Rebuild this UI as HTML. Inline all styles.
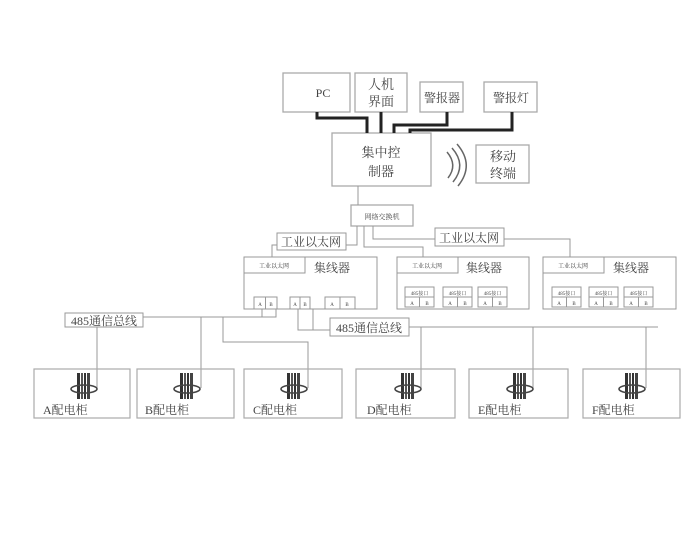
<!DOCTYPE html>
<html><head><meta charset="utf-8"><style>
html,body{margin:0;padding:0;background:#fff;}
svg{display:block;}
text{font-family:"Liberation Serif","Noto Serif CJK SC","Noto Sans CJK SC",serif;fill:#444;}
</style></head><body>
<svg width="699" height="548" viewBox="0 0 699 548" xmlns="http://www.w3.org/2000/svg">
<defs>
<g id="bus">
  <rect x="-7" y="0" width="3" height="26" fill="#333"/>
  <rect x="-3" y="0" width="2" height="26" fill="#555"/>
  <rect x="0" y="0" width="2" height="26" fill="#333"/>
  <rect x="3" y="0" width="3" height="26" fill="#444"/>
  <ellipse cx="0" cy="16" rx="13" ry="4" fill="none" stroke="#444" stroke-width="1.6"/>
</g>
<g id="mod">
  <rect x="0" y="0" width="29" height="20" fill="#fff" stroke="#999"/>
  <line x1="0" y1="10" x2="29" y2="10" stroke="#999"/>
  <line x1="14.5" y1="10" x2="14.5" y2="20" stroke="#999"/>
  <text x="14.5" y="8" font-size="5" text-anchor="middle">485接口</text>
  <text x="7" y="18" font-size="5" text-anchor="middle">A</text>
  <text x="22" y="18" font-size="5" text-anchor="middle">B</text>
</g>
</defs>
<g fill="none" stroke="#aaa" stroke-width="1.3">
  <rect x="283" y="73" width="67" height="39"/>
  <rect x="355" y="73" width="52" height="39"/>
  <rect x="420" y="82" width="43" height="30"/>
  <rect x="484" y="82" width="53" height="30"/>
  <rect x="332" y="133" width="99" height="53"/>
  <rect x="476" y="145" width="53" height="38"/>
  <rect x="351" y="205" width="62" height="21"/>
</g>
<g fill="none" stroke="#222" stroke-width="3">
  <polyline points="317,112 317,118 367,118 367,133"/>
  <polyline points="381,112 381,133"/>
  <polyline points="447,112 447,125 394,125 394,133"/>
  <polyline points="512,112 512,130 410,130 410,133"/>
</g>
<g fill="none" stroke="#666" stroke-width="1.5">
  <path d="M447,152 Q458,165 448,178"/>
  <path d="M452,148 Q467,165 453,182"/>
  <path d="M457,144 Q475,165 458,186"/>
</g>
<text x="323" y="97" font-size="12" text-anchor="middle">PC</text>
<text x="381" y="89" font-size="13" text-anchor="middle">人机</text>
<text x="381" y="106" font-size="13" text-anchor="middle">界面</text>
<text x="442" y="102" font-size="12" text-anchor="middle">警报器</text>
<text x="511" y="102" font-size="12" text-anchor="middle">警报灯</text>
<text x="381" y="157" font-size="13" text-anchor="middle">集中控</text>
<text x="381" y="176" font-size="13" text-anchor="middle">制器</text>
<text x="503" y="161" font-size="13" text-anchor="middle">移动</text>
<text x="503" y="178" font-size="13" text-anchor="middle">终端</text>
<text x="382" y="219" font-size="7" text-anchor="middle">网络交换机</text>
<g fill="none" stroke="#999" stroke-width="1">
  <line x1="358" y1="186" x2="358" y2="205"/>
  <polyline points="357,226 357,245 272,245 272,257"/>
  <polyline points="364,226 364,247 423,247 423,257"/>
  <polyline points="373,226 373,239 570,239 570,257"/>
</g>
<g fill="#fff" stroke="#999" stroke-width="1">
  <rect x="277" y="233" width="69" height="17"/>
  <rect x="435" y="228" width="69" height="18"/>
</g>
<text x="311" y="246" font-size="12" text-anchor="middle">工业以太网</text>
<text x="469" y="242" font-size="12" text-anchor="middle">工业以太网</text>
<!-- hubs -->
<g fill="none" stroke="#999" stroke-width="1">
  <rect x="244" y="257" width="133" height="52"/>
  <rect x="244" y="257" width="61" height="16"/>
  <rect x="397" y="257" width="132" height="52"/>
  <rect x="397" y="257" width="61" height="16"/>
  <rect x="543" y="257" width="133" height="52"/>
  <rect x="543" y="257" width="61" height="16"/>
  <rect x="254" y="297" width="23" height="12"/><line x1="265.5" y1="297" x2="265.5" y2="309"/>
  <rect x="290" y="297" width="20" height="12"/><line x1="300" y1="297" x2="300" y2="309"/>
  <rect x="325" y="297" width="30" height="12"/><line x1="340" y1="297" x2="340" y2="309"/>
</g>
<g font-size="5" text-anchor="middle">
<text x="260" y="306">A</text><text x="271" y="306">B</text>
<text x="295" y="306">A</text><text x="305" y="306">B</text>
<text x="332" y="306">A</text><text x="347" y="306">B</text>
<text x="274" y="268" font-size="6">工业以太网</text>
<text x="427" y="268" font-size="6">工业以太网</text>
<text x="573" y="268" font-size="6">工业以太网</text>
</g>
<text x="332" y="272" font-size="12" text-anchor="middle">集线器</text>
<text x="484" y="272" font-size="12" text-anchor="middle">集线器</text>
<text x="631" y="272" font-size="12" text-anchor="middle">集线器</text>
<use href="#mod" x="405" y="287"/><use href="#mod" x="443" y="287"/><use href="#mod" x="478" y="287"/>
<use href="#mod" x="552" y="287"/><use href="#mod" x="589" y="287"/><use href="#mod" x="624" y="287"/>
<!-- 485 lines -->
<g fill="none" stroke="#999" stroke-width="1">
  <polyline points="262,309 262,317 276,317 276,309"/>
  <line x1="143" y1="317" x2="262" y2="317"/>
  <line x1="97" y1="327" x2="97" y2="388"/>
  <line x1="201" y1="317" x2="201" y2="388"/>
  <polyline points="223,317 223,342 308,342 308,388"/>
  <polyline points="298,309 298,330 313,330 313,309"/>
  <line x1="313" y1="330" x2="330" y2="330"/>
  <polyline points="409,327 658,327"/>
  <line x1="421" y1="327" x2="421" y2="388"/>
  <line x1="533" y1="327" x2="533" y2="388"/>
  <line x1="646" y1="327" x2="646" y2="388"/>
</g>
<g fill="#fff" stroke="#999" stroke-width="1">
  <rect x="65" y="313" width="78" height="14"/>
  <rect x="330" y="318" width="79" height="18"/>
</g>
<text x="104" y="325" font-size="12" text-anchor="middle">485通信总线</text>
<text x="369" y="332" font-size="12" text-anchor="middle">485通信总线</text>
<!-- cabinets -->
<g fill="none" stroke="#aaa" stroke-width="1.2">
  <rect x="34" y="369" width="96" height="49"/>
  <rect x="137" y="369" width="97" height="49"/>
  <rect x="244" y="369" width="98" height="49"/>
  <rect x="356" y="369" width="99" height="49"/>
  <rect x="469" y="369" width="99" height="49"/>
  <rect x="583" y="369" width="97" height="49"/>
</g>
<use href="#bus" x="84" y="373"/>
<use href="#bus" x="187" y="373"/>
<use href="#bus" x="294" y="373"/>
<use href="#bus" x="408" y="373"/>
<use href="#bus" x="520" y="373"/>
<use href="#bus" x="632" y="373"/>
<g font-size="12">
<text x="43" y="414">A配电柜</text>
<text x="145" y="414">B配电柜</text>
<text x="253" y="414">C配电柜</text>
<text x="367" y="414">D配电柜</text>
<text x="478" y="414">E配电柜</text>
<text x="592" y="414">F配电柜</text>
</g>
</svg>
</body></html>
